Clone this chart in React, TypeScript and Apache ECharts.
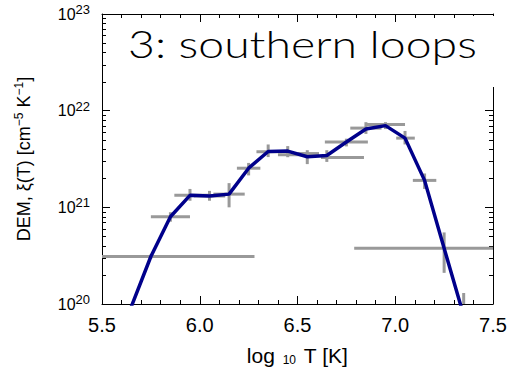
import React, { useEffect, useRef } from "react";
import * as echarts from "echarts";

// Blue DEM curve
const lineTemps = [5.55, 5.65, 5.75, 5.85, 5.95, 6.05, 6.15, 6.25, 6.35, 6.45, 6.55, 6.65, 6.75, 6.85, 6.95, 7.05, 7.15, 7.25, 7.35, 7.45];
const lineDem = [1.5e19, 9.4e19, 3.1e20, 8.0e20, 1.33e21, 1.31e21, 1.37e21, 2.54e21, 3.78e21, 3.82e21, 3.34e21, 3.44e21, 4.74e21, 6.47e21, 7.0e21, 5.2e21, 1.9e21, 3.77e20, 7.6e19, 1.0e19];

// Grey error bars (centre, horizontal range, vertical range)
const errT = [5.75, 5.85, 5.95, 6.05, 6.15, 6.25, 6.35, 6.45, 6.55, 6.65, 6.75, 6.85, 6.95, 7.05, 7.15, 7.25, 7.35];
const errDem = [3.1e20, 8.0e20, 1.33e21, 1.31e21, 1.37e21, 2.54e21, 3.76e21, 3.5e21, 3.6e21, 3.27e21, 4.74e21, 6.6e21, 7.2e21, 5.2e21, 1.9e21, 3.77e20, 7.6e19];
const errTlo = [5.3, 5.75, 5.87, 5.97, 6.07, 6.19, 6.29, 6.40, 6.50, 6.62, 6.64, 6.77, 6.85, 7.005, 7.09, 6.79, 7.33];
const errThi = [6.28, 5.95, 6.05, 6.13, 6.23, 6.31, 6.42, 6.52, 6.61, 6.84, 6.86, 6.93, 7.05, 7.10, 7.21, 7.6, 7.37];
const errDlo = [2.95e20, 7.1e20, 1.17e21, 1.17e21, 1.0e21, 2.14e21, 3.31e21, 3.3e21, 2.8e21, 2.95e21, 4.27e21, 5.75e21, 6.45e21, 4.47e21, 1.55e21, 2.1e20, 4.5e19];
const errDhi = [3.25e20, 8.9e20, 1.55e21, 1.48e21, 1.78e21, 2.88e21, 4.47e21, 4.3e21, 3.9e21, 3.9e21, 5.13e21, 7.6e21, 7.6e21, 6.17e21, 2.24e21, 5.5e20, 1.3e20];

// Axis ticks
const xTicks = [5.5, 6.0, 6.5, 7.0, 7.5];
const yDecades = [20, 21, 22, 23];
const minorMultipliers = [2, 3, 4, 5, 6, 7, 8, 9];

const TITLE = "3: southern loops";

export default function App() {
  const ref = useRef<HTMLDivElement>(null);
  useEffect(() => {
    if (!ref.current) return;
    document.body.style.margin = "0";
    const chart = echarts.init(ref.current, undefined, { renderer: "svg" });

    const lineData = lineTemps.map((t, i) => [t, lineDem[i]]);
    const errData = errT.map((t, i) => [t, errDem[i], errTlo[i], errThi[i], errDlo[i], errDhi[i]]);
    const minorData: number[][] = [];
    yDecades.slice(0, -1).forEach((d) => minorMultipliers.forEach((m) => minorData.push([xTicks[0], m * Math.pow(10, d)])));

    const font = "Liberation Sans";
    const yLabelRich = {
      b: { fontSize: 16, fontFamily: font, color: "#000" },
      s: { fontSize: 13, fontFamily: font, color: "#000", padding: [0, 0, 9, 0] },
    };

    const axisCommon = {
      axisLine: { show: true, onZero: false, lineStyle: { color: "#000", width: 1 } },
      splitLine: { show: false },
    };

    chart.setOption({
      animation: false,
      grid: { left: 102, right: 17, top: 14, bottom: 61, containLabel: false },
      xAxis: [
        {
          type: "value",
          min: xTicks[0],
          max: xTicks[xTicks.length - 1],
          interval: 0.5,
          ...axisCommon,
          axisTick: { show: true, inside: true, length: 8, lineStyle: { color: "#000" } },
          minorTick: { show: true, splitNumber: 5, length: 4, lineStyle: { color: "#000" } },
          axisLabel: { fontSize: 20, fontFamily: font, color: "#000", margin: 11, formatter: (v: number) => v.toFixed(1) },
          name: "{a|log }{sub|10}{a| T [K]}",
          nameLocation: "middle",
          nameGap: 41,
          nameTextStyle: {
            rich: {
              a: { fontSize: 21, fontFamily: font, color: "#000" },
              sub: { fontSize: 12, fontFamily: font, color: "#000", padding: [9, 2, 0, 2] },
            },
          },
        },
        {
          type: "value",
          position: "top",
          min: xTicks[0],
          max: xTicks[xTicks.length - 1],
          interval: 0.5,
          ...axisCommon,
          axisTick: { show: true, inside: true, length: 8, lineStyle: { color: "#000" } },
          minorTick: { show: true, splitNumber: 5, length: 4, lineStyle: { color: "#000" } },
          axisLabel: { show: false },
        },
      ],
      yAxis: [
        {
          type: "log",
          logBase: 10,
          min: Math.pow(10, yDecades[0]),
          max: Math.pow(10, yDecades[yDecades.length - 1]),
          ...axisCommon,
          axisTick: { show: true, inside: true, length: 8, lineStyle: { color: "#000" } },
          axisLabel: {
            margin: 12,
            formatter: (v: number) => `{b|10}{s|${Math.round(Math.log10(v))}}`,
            rich: yLabelRich,
          },
          name: "{a|DEM, ξ(T) [cm}{s|−5}{a| K}{s|−1}{a|]}",
          nameLocation: "middle",
          nameGap: 68,
          nameTextStyle: {
            rich: {
              a: { fontSize: 18, fontFamily: font, color: "#000" },
              s: { fontSize: 12, fontFamily: font, color: "#000", padding: [0, 0, 9, 0] },
            },
          },
        },
        {
          type: "log",
          logBase: 10,
          position: "right",
          min: Math.pow(10, yDecades[0]),
          max: Math.pow(10, yDecades[yDecades.length - 1]),
          ...axisCommon,
          axisTick: { show: true, inside: true, length: 8, lineStyle: { color: "#000" } },
          axisLabel: { show: false },
        },
      ],
      series: [
        {
          type: "custom",
          name: "minorTicks",
          xAxisIndex: 0,
          yAxisIndex: 0,
          silent: true,
          encode: { x: 0, y: 1 },
          data: minorData,
          renderItem: (params: any, api: any) => {
            const cs = params.coordSys;
            const p = api.coord([api.value(0), api.value(1)]);
            const y = Math.round(p[1]) + 0.5;
            if (y < cs.y || y > cs.y + cs.height) return null;
            const st = { stroke: "#000", lineWidth: 1 };
            return {
              type: "group",
              children: [
                { type: "line", shape: { x1: cs.x, y1: y, x2: cs.x + 4, y2: y }, style: st },
                { type: "line", shape: { x1: cs.x + cs.width - 4, y1: y, x2: cs.x + cs.width, y2: y }, style: st },
              ],
            };
          },
        },
        {
          type: "custom",
          name: "errors",
          xAxisIndex: 0,
          yAxisIndex: 0,
          silent: true,
          encode: { x: 0, y: 1 },
          data: errData,
          renderItem: (params: any, api: any) => {
            const cs = params.coordSys;
            const x0 = cs.x, x1 = cs.x + cs.width, y0 = cs.y, y1 = cs.y + cs.height;
            const cl = (v: number, a: number, b: number) => Math.max(a, Math.min(b, v));
            const t = api.value(0), d = api.value(1);
            const pL = api.coord([api.value(2), d]);
            const pR = api.coord([api.value(3), d]);
            const pB = api.coord([t, api.value(4)]);
            const pT = api.coord([t, api.value(5)]);
            const st = { stroke: "#999999", lineWidth: 3 };
            const children: any[] = [];
            if (pL[1] >= y0 && pL[1] <= y1) {
              children.push({ type: "line", shape: { x1: cl(pL[0], x0, x1), y1: pL[1], x2: cl(pR[0], x0, x1), y2: pR[1] }, style: st });
            }
            if (pB[0] >= x0 && pB[0] <= x1) {
              const a = cl(pB[1], y0, y1), b = cl(pT[1], y0, y1);
              if (a - b > 0.5) children.push({ type: "line", shape: { x1: pB[0], y1: a, x2: pT[0], y2: b }, style: st });
            }
            return { type: "group", children };
          },
        },
        {
          type: "line",
          name: "DEM",
          xAxisIndex: 0,
          yAxisIndex: 0,
          data: lineData,
          showSymbol: false,
          symbol: "none",
          clip: true,
          lineStyle: { color: "#00008b", width: 3.5 },
          z: 5,
        },
      ],
      graphic: [
        { type: "rect", z: 100, shape: { x: 470, y: 16, width: 30, height: 71 }, style: { fill: "#fff" } },
        {
          type: "text",
          z: 101,
          x: 128,
          y: 24,
          scaleX: 1.22,
          style: { text: TITLE, fontSize: 38, fontFamily: "Lato", fontWeight: 300, fill: "#000", textVerticalAlign: "top" },
        },
      ],
    });
    return () => chart.dispose();
  }, []);
  return <div ref={ref} style={{ width: 510, height: 371 }} />;
}
